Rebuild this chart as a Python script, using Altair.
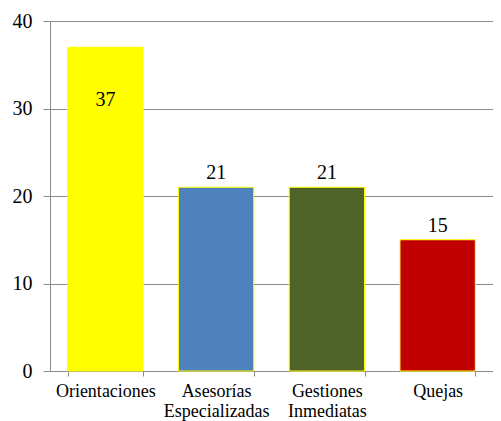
import altair as alt
import pandas as pd

categories = ["Orientaciones", "Asesorías Especializadas", "Gestiones Inmediatas", "Quejas"]
values = [37, 21, 21, 15]
colors = ["#FFFF00", "#4F81BD", "#4F6228", "#C00000"]

df = pd.DataFrame({"cat": categories, "val": values})

FONT = "Liberation Serif"

x = alt.X("cat:N", sort=categories, title=None,
          scale=alt.Scale(paddingInner=0.32, paddingOuter=0.16),
          axis=alt.Axis(labelAngle=0, labelExpr="split(datum.label, ' ')",
                        labelLineHeight=20, tickBand="extent", tickSize=5,
                        labelPadding=6, labelFontSize=18, labelFont=FONT,
                        labelColor="black", domainColor="#8c8c8c", tickColor="#8c8c8c",
                        grid=False))
y = alt.Y("val:Q", title=None,
          scale=alt.Scale(domain=[0, 40], nice=False),
          axis=alt.Axis(values=[0, 10, 20, 30, 40], tickSize=7, labelPadding=11,
                        labelFontSize=20, labelFont=FONT, labelColor="black",
                        domainColor="#8c8c8c", tickColor="#8c8c8c",
                        gridColor="#8c8c8c", gridWidth=1.2))

base = alt.Chart(df)

bars = base.mark_bar(stroke="#FFFF00", strokeWidth=1).encode(
    x=x, y=y,
    color=alt.Color("cat:N", sort=categories,
                    scale=alt.Scale(domain=categories, range=colors), legend=None),
)

inside = base.transform_filter(alt.datum.cat == "Orientaciones").mark_text(
    font=FONT, fontSize=20, color="black", baseline="middle", dy=53
).encode(x=x, y=y, text="val:Q")

above = base.transform_filter(alt.datum.cat != "Orientaciones").mark_text(
    font=FONT, fontSize=20, color="black", baseline="alphabetic", dy=-8
).encode(x=x, y=y, text="val:Q")

chart = alt.layer(bars, inside, above).properties(
    width=443, height=350,
    autosize=alt.AutoSizeParams(type="none"),
    padding={"left": 42, "top": 13, "right": 0, "bottom": 50},
).configure_view(stroke=None).configure(background="white")

chart.save("out.html", embed_options={"renderer": "svg", "actions": False})
